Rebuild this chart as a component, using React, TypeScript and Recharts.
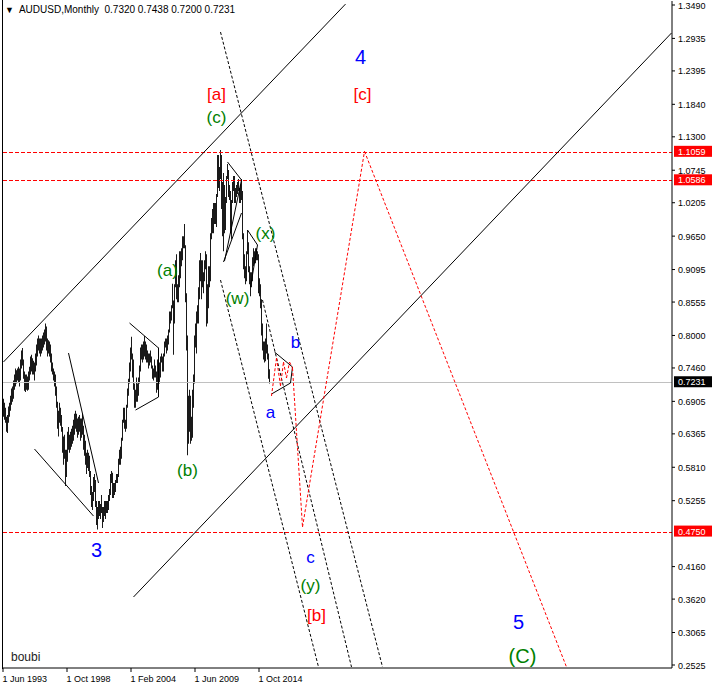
import React from 'react';
import { ComposedChart, Bar, XAxis, YAxis, ReferenceLine, ReferenceDot } from 'recharts';

// monthly AUDUSD, first bar = Jun 1993
const lows = [
  0.665, 0.660, 0.655, 0.640, 0.638, 0.655, 0.665,
  0.675, 0.685, 0.690, 0.695, 0.710, 0.715, 0.720, 0.725, 0.722, 0.715, 0.725, 0.745,
  0.750, 0.728, 0.708, 0.706, 0.710, 0.708, 0.710, 0.725, 0.735, 0.740, 0.735, 0.735,
  0.725, 0.740, 0.750, 0.765, 0.775, 0.770, 0.765, 0.770, 0.775, 0.780, 0.785, 0.790,
  0.775, 0.765, 0.770, 0.765, 0.755, 0.740, 0.735, 0.725, 0.715, 0.700, 0.680, 0.645,
  0.632, 0.655, 0.650, 0.640, 0.605, 0.585, 0.595, 0.550, 0.565, 0.590, 0.610, 0.605,
  0.610, 0.615, 0.620, 0.625, 0.635, 0.645, 0.640, 0.630, 0.635, 0.640, 0.625, 0.630,
  0.635, 0.610, 0.600, 0.585, 0.570, 0.580, 0.575, 0.565, 0.535, 0.515, 0.510, 0.525,
  0.540, 0.515, 0.485, 0.4775, 0.495, 0.500, 0.495, 0.505, 0.480, 0.490, 0.500, 0.495,
  0.505, 0.505, 0.510, 0.525, 0.535, 0.555, 0.530, 0.530, 0.535, 0.540, 0.555, 0.555,
  0.565, 0.585, 0.585, 0.595, 0.625, 0.655, 0.645, 0.640, 0.645, 0.680, 0.700, 0.720,
  0.740, 0.760, 0.730, 0.710, 0.680, 0.680, 0.690, 0.690, 0.700, 0.720, 0.740, 0.760,
  0.755, 0.760, 0.765, 0.760, 0.755, 0.755, 0.745, 0.750, 0.755, 0.745, 0.728, 0.725,
  0.730, 0.730, 0.705, 0.710, 0.740, 0.720, 0.730, 0.755, 0.740, 0.740, 0.765, 0.780,
  0.770, 0.775, 0.785, 0.805, 0.820, 0.825, 0.845, 0.768, 0.820, 0.880, 0.860, 0.855,
  0.855, 0.880, 0.895, 0.915, 0.925, 0.945, 0.945, 0.855, 0.775, 0.601, 0.620, 0.640,
  0.620, 0.625, 0.630, 0.680, 0.720, 0.780, 0.770, 0.820, 0.820, 0.860, 0.890, 0.860,
  0.880, 0.870, 0.890, 0.910, 0.815, 0.820, 0.845, 0.880, 0.890, 0.960, 0.970, 0.970,
  0.985, 0.985, 0.980, 1.030, 1.045, 1.040, 1.060, 1.010, 0.965, 0.940, 0.970, 0.975,
  1.020, 1.060, 1.030, 1.025, 0.970, 0.960, 1.020, 1.040, 1.020, 1.020, 1.030, 1.035,
  1.040, 1.020, 1.020, 1.025, 0.960, 0.910, 0.895, 0.885, 0.890, 0.935, 0.905, 0.885,
  0.865, 0.880, 0.890, 0.915, 0.920, 0.920, 0.925, 0.925, 0.870, 0.865, 0.845, 0.800,
  0.775, 0.760, 0.755, 0.757, 0.770, 0.760, 0.728, 0.720,
];
const highs = [
  0.695, 0.688, 0.680, 0.665, 0.668, 0.682, 0.688,
  0.700, 0.712, 0.715, 0.725, 0.735, 0.745, 0.742, 0.745, 0.748, 0.745, 0.760, 0.775,
  0.779, 0.760, 0.740, 0.735, 0.735, 0.732, 0.740, 0.748, 0.765, 0.768, 0.762, 0.758,
  0.755, 0.770, 0.785, 0.795, 0.800, 0.795, 0.795, 0.795, 0.800, 0.805, 0.810, 0.820,
  0.815, 0.795, 0.792, 0.790, 0.785, 0.770, 0.755, 0.745, 0.740, 0.735, 0.715, 0.690,
  0.675, 0.688, 0.680, 0.668, 0.648, 0.632, 0.635, 0.610, 0.610, 0.640, 0.648, 0.635,
  0.640, 0.645, 0.650, 0.660, 0.670, 0.675, 0.670, 0.662, 0.665, 0.668, 0.662, 0.662,
  0.670, 0.650, 0.635, 0.625, 0.605, 0.610, 0.605, 0.600, 0.575, 0.550, 0.540, 0.565,
  0.570, 0.560, 0.525, 0.515, 0.525, 0.525, 0.520, 0.535, 0.515, 0.515, 0.525, 0.525,
  0.525, 0.525, 0.535, 0.545, 0.570, 0.575, 0.572, 0.555, 0.555, 0.560, 0.570, 0.570,
  0.595, 0.610, 0.615, 0.630, 0.660, 0.680, 0.680, 0.660, 0.685, 0.712, 0.728, 0.755,
  0.780, 0.798, 0.770, 0.760, 0.720, 0.710, 0.730, 0.720, 0.730, 0.750, 0.780, 0.785,
  0.785, 0.790, 0.799, 0.790, 0.785, 0.775, 0.770, 0.770, 0.775, 0.765, 0.750, 0.745,
  0.760, 0.750, 0.740, 0.760, 0.780, 0.755, 0.765, 0.770, 0.765, 0.770, 0.790, 0.795,
  0.795, 0.800, 0.810, 0.840, 0.840, 0.850, 0.886, 0.858, 0.885, 0.925, 0.935, 0.885,
  0.900, 0.940, 0.940, 0.945, 0.965, 0.965, 0.985, 0.950, 0.870, 0.800, 0.700, 0.710,
  0.700, 0.665, 0.710, 0.735, 0.800, 0.820, 0.840, 0.850, 0.880, 0.925, 0.937, 0.925,
  0.925, 0.905, 0.925, 0.940, 0.935, 0.885, 0.915, 0.915, 0.970, 0.995, 1.010, 1.020,
  1.020, 1.020, 1.035, 1.100, 1.100, 1.080, 1.108, 1.100, 1.055, 1.070, 1.050, 1.030,
  1.065, 1.085, 1.075, 1.050, 1.040, 1.025, 1.055, 1.065, 1.065, 1.045, 1.050, 1.055,
  1.060, 1.045, 1.050, 1.060, 1.040, 0.970, 0.935, 0.915, 0.940, 0.975, 0.955, 0.915,
  0.905, 0.905, 0.930, 0.945, 0.940, 0.945, 0.945, 0.940, 0.935, 0.895, 0.885, 0.860,
  0.820, 0.790, 0.790, 0.795, 0.820, 0.785, 0.770, 0.7438,
];

const SLOTS = 669; // months visible on the time axis (incl. empty future)
const xTickIdx = [0, 64, 128, 192, 256];
const xTickLabels = ['1 Jun 1993', '1 Oct 1998', '1 Feb 2004', '1 Jun 2009', '1 Oct 2014'];
const yTicks = [1.349, 1.2935, 1.2395, 1.184, 1.13, 1.0745, 1.0205, 0.965, 0.9095, 0.8555, 0.8,
  0.746, 0.6905, 0.6365, 0.581, 0.5255, 0.416, 0.362, 0.3065, 0.2525];
const lastPrice = 0.7231;
const levels = [1.1059, 1.0586, 0.475];

// trend lines: [month index, price, month index, price]
const solidLines = [
  [0, 0.756, 342, 1.3505],
  [130, 0.3655, 668, 1.3025],
  [65, 0.7708, 95, 0.5549],
  [31, 0.6113, 90, 0.5],
  [126, 0.8207, 155, 0.7792],
  [155, 0.7792, 155, 0.6977],
  [132, 0.6761, 155, 0.6977],
  [224, 1.0882, 238, 1.0583],
  [238, 1.0583, 221, 0.9237],
  [220, 0.922, 238, 1.0034],
  [244, 0.9752, 254, 0.9503],
  [247, 0.8805, 254, 0.9503],
  [271, 0.7725, 289, 0.7476],
  [268, 0.7027, 287, 0.721],
  [289, 0.7476, 287, 0.721],
];
const dottedLines = [
  [217, 1.3041, 379, 0.2492],
  [217, 0.8921, 315, 0.2492],
  [259, 0.8589, 348, 0.2492],
];
const redPath = [
  [268, 0.6994], [273, 0.7625], [277, 0.716], [280, 0.7559], [283, 0.7293], [286, 0.7559],
  [289, 0.7459], [299, 0.4818], [361, 1.1059], [563, 0.2492],
];

const BLUE = '#0000ff';
const RED = '#ff0000';
const GREEN = '#008000';
const waveLabels = [
  { t: '4', i: 357, p: 1.2626, c: BLUE, big: true },
  { t: '[a]', i: 213, p: 1.2011, c: RED },
  { t: '(c)', i: 213, p: 1.1629, c: GREEN },
  { t: '[c]', i: 359, p: 1.2011, c: RED },
  { t: '(a)', i: 164, p: 0.9087, c: GREEN },
  { t: '(x)', i: 262, p: 0.9702, c: GREEN },
  { t: '(w)', i: 234, p: 0.8622, c: GREEN },
  { t: 'b', i: 292, p: 0.7891, c: BLUE },
  { t: 'a', i: 267, p: 0.6728, c: BLUE },
  { t: '(b)', i: 184, p: 0.5765, c: GREEN },
  { t: '3', i: 93, p: 0.4436, c: BLUE, big: true },
  { t: 'c', i: 307, p: 0.4319, c: BLUE },
  { t: '(y)', i: 307, p: 0.3854, c: GREEN },
  { t: '[b]', i: 313, p: 0.3356, c: RED },
  { t: '5', i: 515, p: 0.3239, c: BLUE, big: true },
  { t: '(C)', i: 519, p: 0.2675, c: GREEN, big: true },
];

const data = Array.from({ length: SLOTS }, (_, i) => ({
  i,
  range: i < lows.length ? [lows[i], highs[i]] : null,
}));

const XTick = (props: any) => {
  const { x, y, payload } = props;
  const k = xTickIdx.indexOf(payload.value);
  return (
    <g>
      <line x1={x - 0.5} y1={y} x2={x - 0.5} y2={y + 4} stroke="#000" />
      <text x={x - 1} y={y + 14} fontSize={9} fill="#000" textAnchor="start">{xTickLabels[k]}</text>
    </g>
  );
};

const YTick = (props: any) => {
  const { x, y, payload } = props;
  return (
    <g>
      <line x1={x} y1={y} x2={x + 3} y2={y} stroke="#000" />
      <text x={x + 6} y={y + 3.5} fontSize={9} fill="#000">{payload.value.toFixed(4)}</text>
    </g>
  );
};

// price box on the right axis, placed from the line's own view box
const PriceTag = (props: any) => {
  const { viewBox, text, bg } = props;
  const right = viewBox.x + viewBox.width;
  return (
    <g>
      <rect x={right + 2.5} y={viewBox.y - 5.5} width={40} height={11} fill={bg} />
      <text x={right + 6.5} y={viewBox.y + 3.5} fontSize={9} fill="#fff">{text}</text>
    </g>
  );
};

// horizontal level snapped to a pixel row so it stays a clean 1px line
const levelShape = (stroke: string, dash?: string) => (p: any) => {
  const yy = Math.ceil(p.y1) + 0.5;
  return <line x1={p.x1 - 0.5} y1={yy} x2={p.x2} y2={yy} stroke={stroke} strokeWidth={1}
    strokeDasharray={dash} shapeRendering="crispEdges" />;
};

const lastSlot = SLOTS - 1;

export default function App() {
  return (
    <div style={{ position: 'absolute', left: 0, top: 0, width: 712, height: 687, background: '#fff', fontFamily: '"Liberation Sans", Arial, sans-serif' }}>
      <ComposedChart width={712} height={687} data={data} margin={{ top: 1, right: 0, bottom: 0, left: 3 }}>
        <XAxis dataKey="i" type="category" ticks={xTickIdx} interval={0} height={19}
          tickSize={0} tickMargin={0} axisLine={{ stroke: '#000' }} tick={<XTick />} />
        <YAxis orientation="right" width={40} domain={[0.24753, 1.35565]} allowDataOverflow
          ticks={yTicks} interval={0} tickSize={0} tickMargin={0} axisLine={{ stroke: '#000' }} tick={<YTick />} />
        <ReferenceLine segment={[{ x: 0, y: lastPrice }, { x: lastSlot, y: lastPrice }]} stroke="#c0c0c0"
          shape={levelShape('#c0c0c0')} ifOverflow="visible"
          label={<PriceTag text={lastPrice.toFixed(4)} bg="#000" />} />
        {levels.map((v) => (
          <ReferenceLine key={v} segment={[{ x: 0, y: v }, { x: lastSlot, y: v }]} stroke={RED}
            shape={levelShape(RED, '4 2')} ifOverflow="visible"
            label={<PriceTag text={v.toFixed(4)} bg={RED} />} />
        ))}
        <Bar dataKey="range" fill="#000" barSize={3} isAnimationActive={false} />
        {solidLines.map((s, k) => (
          <ReferenceLine key={'s' + k} segment={[{ x: s[0], y: s[1] }, { x: s[2], y: s[3] }]}
            stroke="#000" strokeWidth={1} ifOverflow="hidden" />
        ))}
        {dottedLines.map((s, k) => (
          <ReferenceLine key={'d' + k} segment={[{ x: s[0], y: s[1] }, { x: s[2], y: s[3] }]}
            stroke="#000" strokeDasharray="3 2" ifOverflow="hidden" />
        ))}
        {redPath.slice(1).map((pt, k) => (
          <ReferenceLine key={'r' + k} segment={[{ x: redPath[k][0], y: redPath[k][1] }, { x: pt[0], y: pt[1] }]}
            stroke={RED} strokeDasharray="3 2" ifOverflow="hidden" />
        ))}
        {waveLabels.map((l, k) => (
          <ReferenceDot key={'l' + k} x={l.i} y={l.p} r={0} fill="none" stroke="none" ifOverflow="hidden"
            label={{ value: l.t, fill: l.c, fontSize: l.big ? 20 : 17, position: 'center' }} />
        ))}
      </ComposedChart>
      <div style={{ position: 'absolute', left: 2, top: 0, width: 1, height: 669, background: '#000' }} />
      <div style={{ position: 'absolute', left: 5, top: 3, fontSize: 10, lineHeight: '14px', color: '#000', whiteSpace: 'pre' }}>
        <span style={{ fontSize: 9 }}>▼</span>{'  AUDUSD,Monthly  0.7320 0.7438 0.7200 0.7231'}
      </div>
      <div style={{ position: 'absolute', left: 11, top: 650, fontSize: 12, color: '#222' }}>boubi</div>
    </div>
  );
}
